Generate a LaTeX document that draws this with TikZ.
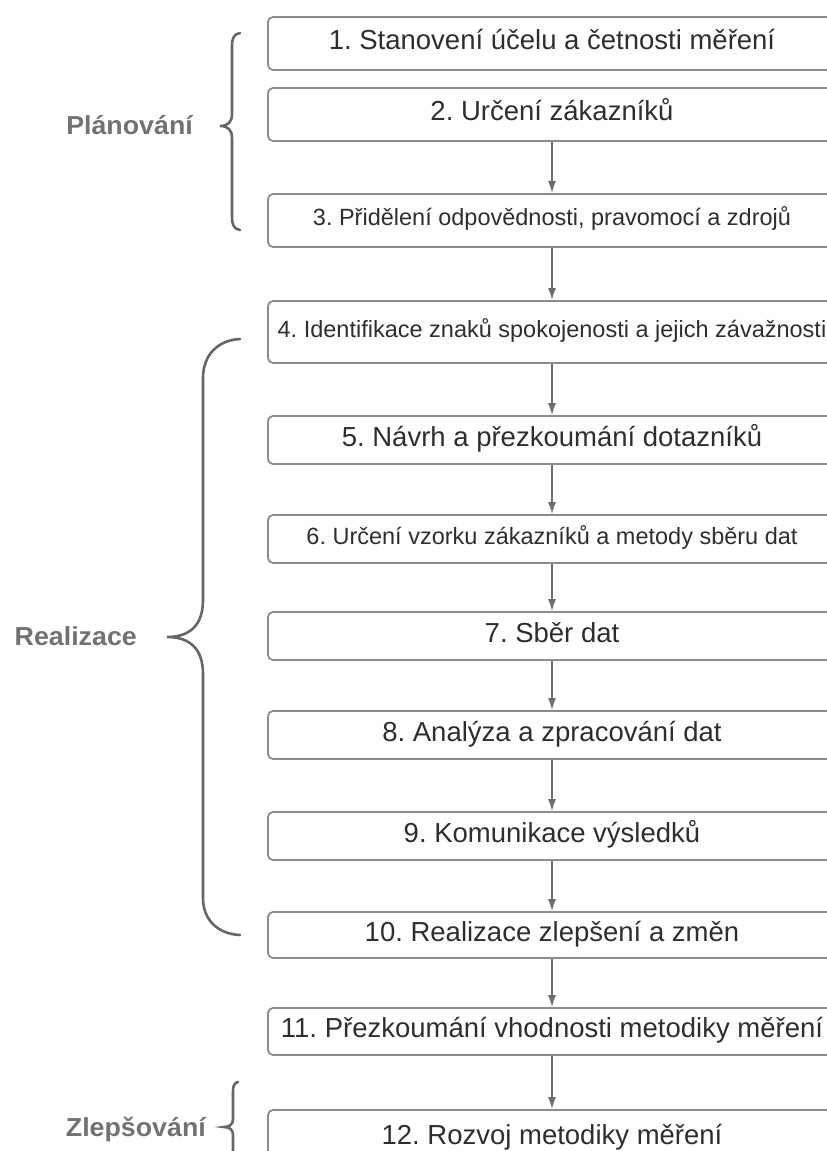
\documentclass[tikz,border=0pt]{standalone}
\usepackage{fontspec}
\setmainfont{Liberation Sans}
\newfontfamily\phasefont[FakeStretch=1.03]{Liberation Sans}
\usetikzlibrary{arrows.meta}
\definecolor{boxline}{HTML}{8C8C8C}
\definecolor{arrowgray}{HTML}{6E6E6E}
\definecolor{bracegray}{HTML}{666666}
\definecolor{labelgray}{HTML}{727272}
\definecolor{textdark}{HTML}{2E2E2E}
\frenchspacing

\begin{document}
\begin{tikzpicture}[x=1pt, y=-1pt, >={Latex[length=12pt,width=8pt]}]
  % Styles
  \tikzstyle{stepbox} = [rectangle, draw=boxline, line width=1.8pt, rounded corners=5pt, minimum width=568pt, inner sep=2pt, text=textdark, font=\fontsize{27.5}{33}\selectfont, text height=20pt, text depth=8pt]
  \tikzstyle{smallbox} = [stepbox, font=\fontsize{23.5}{28}\selectfont, text height=17pt, text depth=7pt]
  \tikzstyle{connector} = [draw=arrowgray, line width=1.5pt, ->]
  \tikzstyle{curly} = [draw=bracegray, line width=2.6pt, line cap=round]
  \tikzstyle{phase} = [anchor=east, inner sep=0pt, text=labelgray, font=\phasefont\bfseries\fontsize{26}{31}\selectfont, text height=18.5pt, text depth=0pt]

  \useasboundingbox (0,0) rectangle (827,1151);
  \clip (0,0) rectangle (827,1151);

  % Steps
  \node[stepbox, minimum height=53pt] (s1) at (552,43.5) {1. Stanovení účelu a četnosti měření};
  \node[stepbox, minimum height=53pt] (s2) at (552,114.5) {2. Určení zákazníků};
  \node[smallbox, minimum height=53pt] (s3) at (552,220.5) {3. Přidělení odpovědnosti, pravomocí a zdrojů};
  \node[smallbox, minimum height=62pt] (s4) at (552,332) {4. Identifikace znaků spokojenosti a jejich závažnosti};
  \node[stepbox, minimum height=48pt] (s5) at (552,440) {5. Návrh a přezkoumání dotazníků};
  \node[smallbox, minimum height=48pt] (s6) at (552,539) {6. Určení vzorku zákazníků a metody sběru dat};
  \node[stepbox, minimum height=48pt] (s7) at (552,636) {7. Sběr dat};
  \node[stepbox, minimum height=48pt] (s8) at (552,735) {8. Analýza a zpracování dat};
  \node[stepbox, minimum height=48pt] (s9) at (552,836) {9. Komunikace výsledků};
  \node[stepbox, minimum height=46pt] (s10) at (552,935) {10. Realizace zlepšení a změn};
  \node[stepbox, minimum height=47pt] (s11) at (552,1031.5) {11. Přezkoumání vhodnosti metodiky měření};
  \node[stepbox, minimum height=56pt] (s12) at (552,1138) {12. Rozvoj metodiky měření};

  % Flow
  \foreach \a/\b in {s2/s3, s3/s4, s4/s5, s5/s6, s6/s7, s7/s8, s8/s9, s9/s10, s10/s11, s11/s12}
    \draw[connector] (\a) -- (\b);

  % Phases
  \node[phase] (plan) at (193,125) {Plánování};
  \node[phase] (real) at (137,636) {Realizace};
  \node[phase] (zlep) at (206,1127) {Zlepšování};

  % Braces
  \draw[curly] (240,33) .. controls (234,34) and (232,38) .. (232,46) -- (232,114)
    .. controls (232,122) and (228,126) .. (220,126) .. controls (228,126) and (232,130) .. (232,138)
    -- (232,217) .. controls (232,225) and (234,229) .. (240,230);
  \draw[curly] (240,339) .. controls (218,340) and (203,355) .. (203,378) -- (203,600)
    .. controls (203,625) and (190,637) .. (167,637) .. controls (190,637) and (203,649) .. (203,674)
    -- (203,898) .. controls (203,920) and (218,934) .. (240,935);
  \draw[curly] (238,1082) .. controls (234,1083) and (233,1086) .. (233,1092) -- (233,1119)
    .. controls (233,1124) and (230,1127) .. (224,1127) .. controls (230,1127) and (233,1130) .. (233,1135)
    -- (233,1165);
\end{tikzpicture}
\end{document}
